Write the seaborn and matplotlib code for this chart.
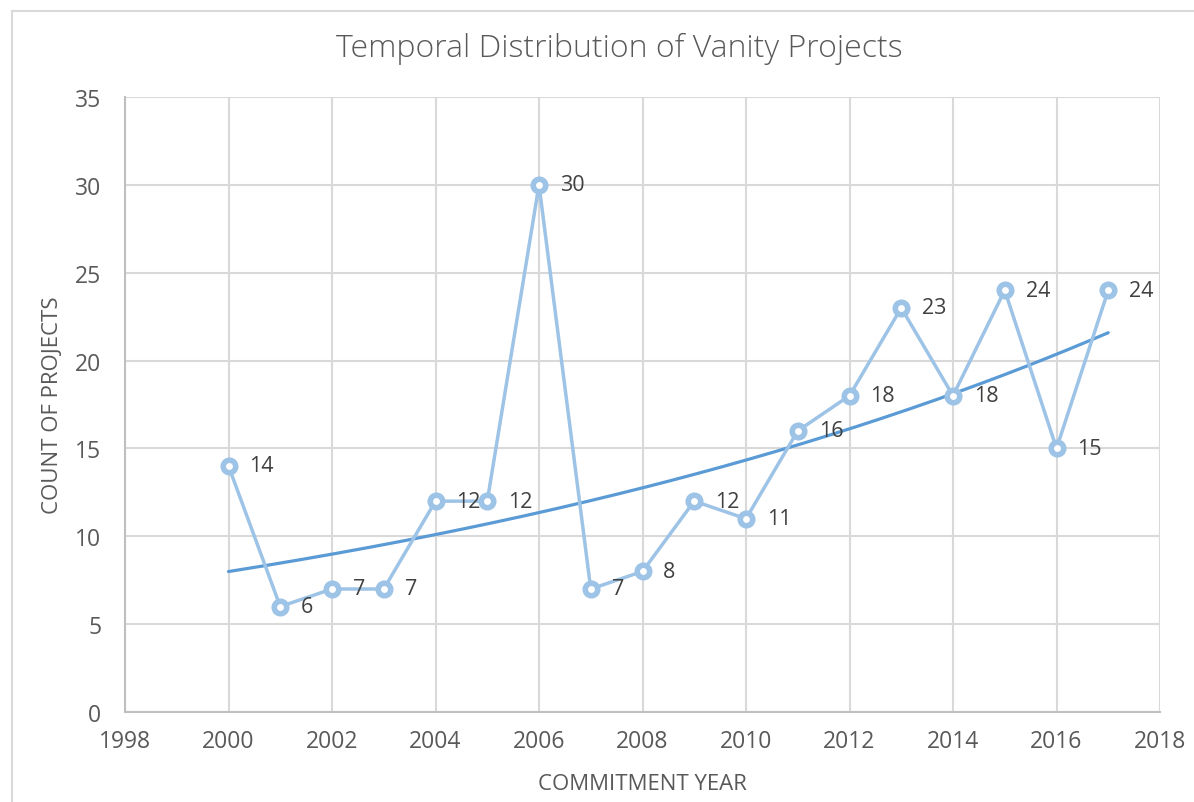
import numpy as np
import pandas as pd
import matplotlib
matplotlib.use("Agg")
import matplotlib.pyplot as plt
import seaborn as sns
from matplotlib.lines import Line2D

years = [2000, 2001, 2002, 2003, 2004, 2005, 2006, 2007, 2008,
         2009, 2010, 2011, 2012, 2013, 2014, 2015, 2016, 2017]
counts = [14, 6, 7, 7, 12, 12, 30, 7, 8, 12, 11, 16, 18, 23, 18, 24, 15, 24]
x_ticks = [1998, 2000, 2002, 2004, 2006, 2008, 2010, 2012, 2014, 2016, 2018]
y_ticks = [0, 5, 10, 15, 20, 25, 30, 35]
title = "Temporal Distribution of Vanity Projects"
x_label = "COMMITMENT YEAR"
y_label = "COUNT OF PROJECTS"

df = pd.DataFrame({"year": years, "count": counts})

# Exponential trendline (least squares on log y, as Excel does)
xr = np.array(years, dtype=float) - years[0]
b, lna = np.polyfit(xr, np.log(np.array(counts, dtype=float)), 1)
trend_x = np.linspace(years[0], years[-1], 200)
trend_df = pd.DataFrame({"year": trend_x,
                         "trend": np.exp(lna) * np.exp(b * (trend_x - years[0]))})

sns.set_theme(style="white")
plt.rcParams['font.family'] = ['Open Sans', 'DejaVu Sans']

fig = plt.figure(figsize=(11.94, 8.03), dpi=100)
ax = fig.add_axes([125 / 1194, 1 - 713 / 803, (1160 - 125) / 1194, (713 - 98) / 803])

line_c = "#9DC3E6"
trend_c = "#5B9BD5"
grid_c = "#D9D9D9"
text_c = "#595959"

sns.lineplot(data=df, x="year", y="count", ax=ax, color=line_c, linewidth=2.5,
             marker="o", markersize=9, markerfacecolor="white",
             markeredgecolor=line_c, markeredgewidth=4, zorder=3)
sns.lineplot(data=trend_df, x="year", y="trend", ax=ax, color=trend_c,
             linewidth=2.3, zorder=2)

for xv, yv in zip(years, counts):
    ax.annotate(str(yv), (xv, yv), xytext=(15, 0), textcoords="offset points",
                ha="left", va="center", fontsize=15.5, color="#404040", zorder=4)

ax.set_xlim(x_ticks[0], x_ticks[-1])
ax.set_ylim(y_ticks[0], y_ticks[-1])
ax.set_xticks(x_ticks)
ax.set_yticks(y_ticks)
ax.tick_params(axis="both", length=0, labelsize=16.5, colors=text_c)
ax.tick_params(axis="x", pad=12)
ax.tick_params(axis="y", pad=17)
ax.grid(True, color=grid_c, linewidth=1.5, zorder=0)
ax.set_axisbelow(True)
for s in ["top", "right"]:
    ax.spines[s].set_visible(False)
for s in ["left", "bottom"]:
    ax.spines[s].set_color("#BFBFBF")
    ax.spines[s].set_linewidth(1.5)

ax.set_xlabel(x_label, fontsize=16, color=text_c, labelpad=15)
ax.set_ylabel(y_label, fontsize=16, color=text_c, labelpad=9)
fig.text(0.5185, 1 - 49 / 803, title, ha="center", va="center",
         fontsize=23, color=text_c, fontweight="light")

# chart frame
fig.add_artist(Line2D([12 / 1194, 12 / 1194], [0, 1 - 12 / 803],
                      transform=fig.transFigure, color="#D9D9D9", linewidth=1.5))
fig.add_artist(Line2D([12 / 1194, 1], [1 - 12 / 803, 1 - 12 / 803],
                      transform=fig.transFigure, color="#D9D9D9", linewidth=1.5))

fig.savefig("out.png", dpi=100)
